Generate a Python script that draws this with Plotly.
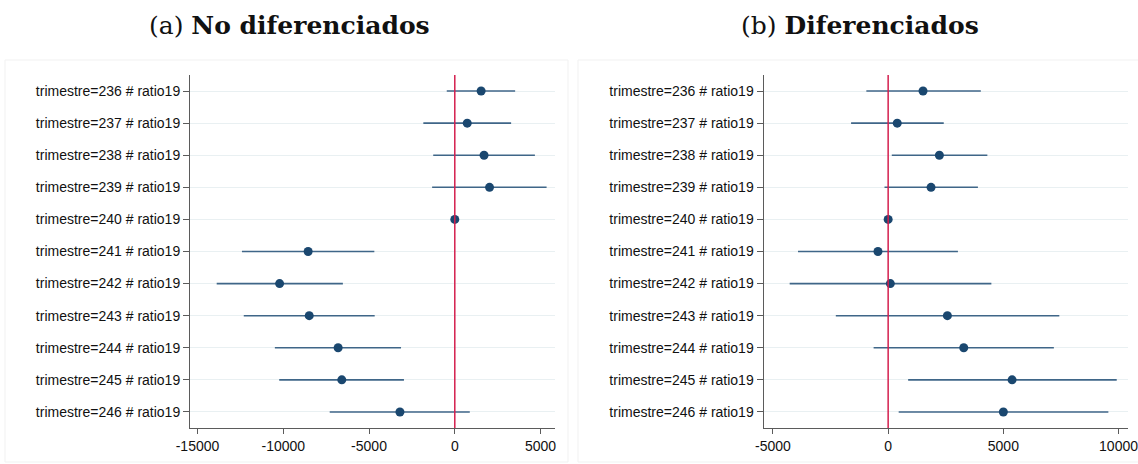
import plotly.graph_objects as go

W, H = 1138, 464

labels = [f"trimestre={t} # ratio19" for t in range(236, 247)]

# Panel (a) No diferenciados
a_coef = [1535, 725, 1706, 2026, 0, -8550, -10213, -8486, -6802, -6588, -3198]
a_lo   = [-469, -1834, -1258, -1322, 0, -12409, -13881, -12303, -10490, -10235, -7292]
a_hi   = [3518, 3284, 4670, 5352, 0, -4691, -6525, -4670, -3134, -2964, 874]

# Panel (b) Diferenciados
b_coef = [1514, 394, 2224, 1861, 0, -442, 95, 2571, 3281, 5379, 5000]
b_lo   = [-946, -1609, 158, -158, 0, -3912, -4274, -2271, -631, 868, 457]
b_hi   = [4022, 2413, 4306, 3896, 0, 3028, 4480, 7429, 7192, 9921, 9558]

a_ticks = [-15000, -10000, -5000, 0, 5000]
b_ticks = [-5000, 0, 5000, 10000]

titles = [("(a) ", "No diferenciados"), ("(b) ", "Diferenciados")]

MARK = "#1a476f"
CI = "#3f6688"
RED = "#d41f4e"
AXC = "#5b5b5b"
GRID = "#e9f0f2"

def px(x):
    return x / W

def py(y):
    return 1 - y / H

fig = go.Figure()

panels = [
    dict(coef=a_coef, lo=a_lo, hi=a_hi, ticks=a_ticks, xr=[-15437, 5842],
         dom=[px(190), px(555)], xa="x", ya="y"),
    dict(coef=b_coef, lo=b_lo, hi=b_hi, ticks=b_ticks, xr=[-5410, 10410],
         dom=[px(763.5), px(1128)], xa="x2", ya="y2"),
]

ydom = [py(428), py(75)]
ypos = list(range(len(labels)))
TF = dict(family="Liberation Sans", size=14, color="#111")

for i, p in enumerate(panels):
    plus = [h - c for h, c in zip(p["hi"], p["coef"])]
    minus = [c - l for c, l in zip(p["coef"], p["lo"])]
    fig.add_trace(go.Scatter(
        x=p["coef"], y=ypos, mode="markers", xaxis=p["xa"], yaxis=p["ya"],
        marker=dict(color=MARK, size=9),
        error_x=dict(type="data", symmetric=False, array=plus, arrayminus=minus,
                     color=CI, thickness=1.6, width=0),
        showlegend=False,
    ))
    sfx = "" if i == 0 else "2"
    fig.update_layout(**{
        "xaxis" + sfx: dict(domain=p["dom"], range=p["xr"], anchor=p["ya"],
                            tickvals=p["ticks"], ticktext=[str(t) for t in p["ticks"]],
                            showgrid=False, zeroline=False, showline=True,
                            linecolor=AXC, linewidth=1, ticks="outside", ticklen=5,
                            tickcolor=AXC, tickfont=TF, automargin=False,
                            ticklabeloverflow="allow", fixedrange=True),
        "yaxis" + sfx: dict(domain=ydom, range=[10.5, -0.5], anchor=p["xa"],
                            tickvals=ypos, ticktext=labels,
                            showgrid=True, gridcolor=GRID, gridwidth=1, zeroline=False,
                            showline=True, linecolor=AXC, linewidth=1,
                            ticks="outside", ticklen=6, tickcolor=AXC,
                            tickfont=TF, automargin=False,
                            ticklabeloverflow="allow", fixedrange=True),
    })
    # vertical reference line at zero
    fig.add_shape(type="line", xref=p["xa"], yref="paper", x0=0, x1=0,
                  y0=ydom[0], y1=ydom[1], line=dict(color=RED, width=1.5), layer="above")

# faint panel frames
fig.add_shape(type="rect", xref="paper", yref="paper", x0=px(5), x1=px(568),
              y0=py(462), y1=py(60), line=dict(color="#f1f1f1", width=1), layer="below")
fig.add_shape(type="rect", xref="paper", yref="paper", x0=px(578), x1=px(1145),
              y0=py(462), y1=py(60), line=dict(color="#f1f1f1", width=1), layer="below")

for (pre, bold), cx in zip(titles, [289, 860]):
    fig.add_annotation(xref="paper", yref="paper", x=px(cx), y=py(25),
                       text=f"{pre}<b>{bold}</b>", showarrow=False,
                       xanchor="center", yanchor="middle",
                       font=dict(family="DejaVu Serif", size=25, color="#111"))

fig.update_layout(width=W, height=H, margin=dict(l=0, r=0, t=0, b=0),
                  paper_bgcolor="white", plot_bgcolor="white")

fig.write_html("out.html")
